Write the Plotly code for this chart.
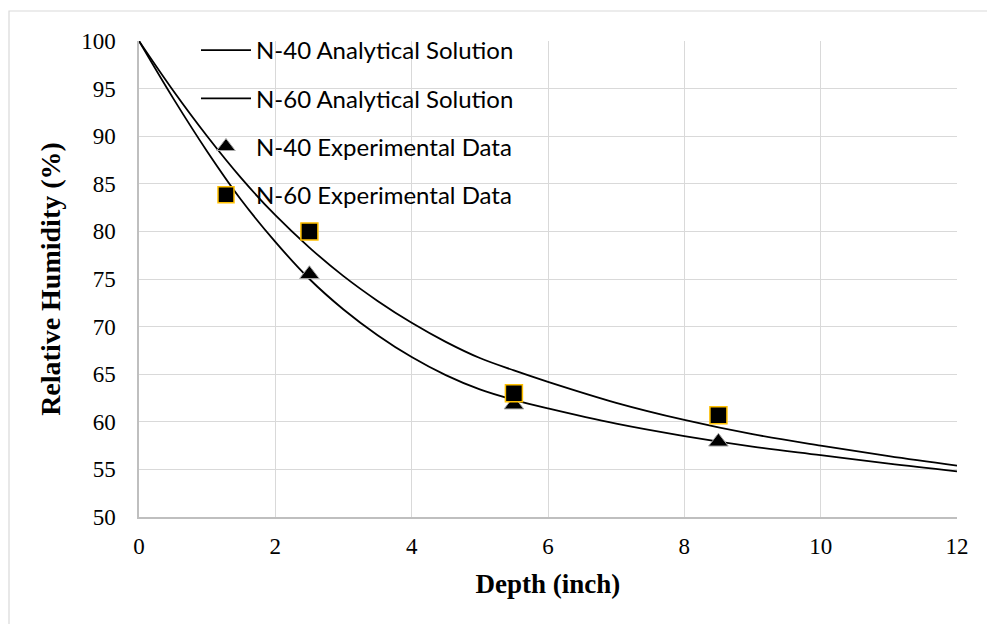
import plotly.graph_objects as go

# Analytical solution curves
depth_curve = [0, 0.5, 1, 1.5, 2, 2.5, 3, 3.5, 4, 4.5, 5, 5.5, 6, 7, 8, 9, 10, 11, 12]
rh_n40_analytical = [100, 94.0, 88.4, 83.3, 78.9, 75.0, 71.8, 69.1, 66.8, 64.9, 63.4, 62.3, 61.4, 59.8, 58.5, 57.4, 56.5, 55.6, 54.8]
rh_n60_analytical = [100, 94.8, 90.0, 85.6, 81.7, 78.3, 75.3, 72.7, 70.4, 68.4, 66.7, 65.4, 64.2, 62.0, 60.2, 58.7, 57.5, 56.4, 55.4]

# Experimental data
depth_exp = [2.5, 5.5, 8.5]
rh_n40_exp = [75.5, 61.8, 57.9]
rh_n60_exp = [80.0, 63.0, 60.7]

x_ticks = [0, 2, 4, 6, 8, 10, 12]
y_ticks = [50, 55, 60, 65, 70, 75, 80, 85, 90, 95, 100]

W, H = 987, 624
ML, MR, MT, MB = 139, 30, 41, 107
PW, PH = W - ML - MR, H - MT - MB


def px_x(p):
    return (p - ML) / PW


def px_y(p):
    return (H - MB - p) / PH


fig = go.Figure()
fig.add_trace(go.Scatter(x=depth_curve, y=rh_n40_analytical, mode="lines",
                         name="N-40 Analytical Solution", legendgroup="a",
                         line=dict(color="black", width=1.8, shape="spline", smoothing=1)))
fig.add_trace(go.Scatter(x=depth_curve, y=rh_n60_analytical, mode="lines",
                         name="N-60 Analytical Solution", legendgroup="b",
                         line=dict(color="black", width=1.8, shape="spline", smoothing=1)))
fig.add_trace(go.Scatter(x=depth_exp, y=rh_n40_exp, mode="markers",
                         name="N-40 Experimental Data", legendgroup="c",
                         marker=dict(symbol="triangle-up", size=17, color="black",
                                     line=dict(color="#a6a6a6", width=1))))
fig.add_trace(go.Scatter(x=depth_exp, y=rh_n60_exp, mode="markers",
                         name="N-60 Experimental Data", legendgroup="d",
                         marker=dict(symbol="square", size=17, color="black",
                                     line=dict(color="#FFC000", width=1.5))))

serif = "Liberation Serif, Times New Roman, serif"

fig.update_layout(
    width=W, height=H, autosize=False,
    margin=dict(l=ML, r=MR, t=MT, b=MB),
    paper_bgcolor="white", plot_bgcolor="white",
    showlegend=True,
    legend=dict(x=px_x(196), y=px_y(28), xanchor="left", yanchor="top",
                bgcolor="rgba(0,0,0,0)", borderwidth=0,
                font=dict(family="Lato, sans-serif", size=24, color="black"),
                tracegroupgap=14, itemwidth=50),
    xaxis=dict(range=[0, 12], tickvals=x_ticks, ticktext=[str(v) for v in x_ticks],
               showgrid=True, gridcolor="#d9d9d9", gridwidth=1.3,
               showline=True, linecolor="#bfbfbf", linewidth=1.5,
               zeroline=False, ticks="", ticklabelstandoff=8,
               tickfont=dict(family=serif, size=23, color="black"),
               title=dict(text="<b>Depth (inch)</b>", standoff=16,
                          font=dict(family=serif, size=27, color="black"))),
    yaxis=dict(range=[50, 100], tickvals=y_ticks, ticktext=[str(v) for v in y_ticks],
               showgrid=True, gridcolor="#d9d9d9", gridwidth=1.3,
               showline=True, linecolor="#bfbfbf", linewidth=1.5,
               zeroline=False, ticks="", ticklabelstandoff=17,
               tickfont=dict(family=serif, size=23, color="black"),
               title=dict(text="<b>Relative Humidity (%)</b>", standoff=12,
                          font=dict(family=serif, size=28, color="black"))),
)

# outer chart-area border
fig.add_shape(type="rect", xref="paper", yref="paper",
              x0=px_x(9), x1=px_x(W + 5), y0=px_y(H + 5), y1=px_y(11),
              line=dict(color="#d9d9d9", width=1.2), fillcolor="rgba(0,0,0,0)",
              layer="below")

fig.write_html("out.html")
